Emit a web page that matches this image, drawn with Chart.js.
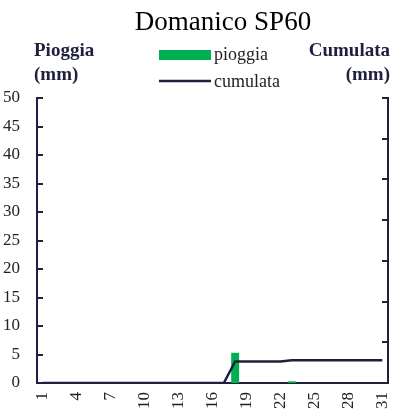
<!DOCTYPE html>
<html>
<head>
<meta charset="utf-8">
<script src="https://cdn.jsdelivr.net/npm/chart.js@4.4.0/dist/chart.umd.min.js"></script>
<style>
  html, body { margin: 0; padding: 0; background: #fff; }
  canvas { display: block; }
</style>
</head>
<body>
<canvas id="grafico" width="393" height="418"></canvas>
<script>
// Domanico SP60 - pioggia giornaliera e cumulata
var giorni = [];
for (var g = 1; g <= 31; g++) giorni.push(String(g));

var pioggia = [0,0,0,0,0,0,0,0,0,0,0,0,0,0,0,0,0,5.3,0,0,0,0,0.3,0,0,0,0,0,0,0,0];
var cumulata = [0,0,0,0,0,0,0,0,0,0,0,0,0,0,0,0,0,5.3,5.3,5.3,5.3,5.3,5.6,5.6,5.6,5.6,5.6,5.6,5.6,5.6,5.6];

var maxPioggia = 50, passoPioggia = 5;
var maxCumulata = 70, passoCumulata = 10;

var blu = '#1f1f3f';
var verde = '#00b050';
var serif = '"Liberation Serif", "DejaVu Serif", serif';

// titoli, legenda e tacche interne
var decorazioni = {
    id: 'decorazioni',
    afterDraw: function (chart) {
        var ctx = chart.ctx;
        var area = chart.chartArea;
        ctx.save();

        // tacche verso l'interno
        ctx.strokeStyle = blu;
        ctx.lineWidth = 2;
        var ys = chart.scales.y;
        ys.ticks.forEach(function (t) {
            var py = Math.round(ys.getPixelForValue(t.value));
            ctx.beginPath();
            ctx.moveTo(area.left, py);
            ctx.lineTo(area.left + 6, py);
            ctx.stroke();
        });
        var ys2 = chart.scales.y2;
        ys2.ticks.forEach(function (t) {
            var py = Math.round(ys2.getPixelForValue(t.value));
            ctx.beginPath();
            ctx.moveTo(area.right, py);
            ctx.lineTo(area.right - 6, py);
            ctx.stroke();
        });

        // titolo
        ctx.fillStyle = '#000';
        ctx.font = '27px ' + serif;
        ctx.textAlign = 'center';
        ctx.textBaseline = 'middle';
        ctx.fillText('Domanico SP60', 223, 23);

        // titoli assi
        ctx.fillStyle = blu;
        ctx.font = 'bold 19px ' + serif;
        ctx.textAlign = 'left';
        ctx.fillText('Pioggia', 34, 51);
        ctx.fillText('(mm)', 34, 75);
        ctx.textAlign = 'right';
        ctx.fillText('Cumulata', 390, 51);
        ctx.fillText('(mm)', 390, 75);

        // legenda
        ctx.fillStyle = verde;
        ctx.fillRect(159, 50, 52, 10);
        ctx.strokeStyle = blu;
        ctx.lineWidth = 2.5;
        ctx.beginPath();
        ctx.moveTo(159, 81);
        ctx.lineTo(211, 81);
        ctx.stroke();
        ctx.fillStyle = '#222';
        ctx.font = '18px ' + serif;
        ctx.textAlign = 'left';
        ctx.fillText('pioggia', 214, 55);
        ctx.fillText('cumulata', 214, 82);

        ctx.restore();
    }
};

var datos = {
    labels: giorni,
    datasets: [
        {
            type: 'line',
            label: 'cumulata',
            data: cumulata,
            yAxisID: 'y2',
            borderColor: blu,
            borderWidth: 2.5,
            pointRadius: 0,
            tension: 0,
            fill: false,
            order: 0
        },
        {
            type: 'bar',
            label: 'pioggia',
            data: pioggia,
            yAxisID: 'y',
            backgroundColor: verde,
            borderWidth: 0,
            barPercentage: 0.7,
            categoryPercentage: 1,
            order: 1
        }
    ]
};

var options = {
    responsive: false,
    animation: false,
    layout: { padding: { top: 98, left: 0, right: 0, bottom: 0 } },
    plugins: {
        legend: { display: false },
        title: { display: false },
        tooltip: { enabled: false }
    },
    scales: {
        x: {
            offset: true,
            grid: { display: false, drawTicks: false },
            border: { display: true, color: blu, width: 2 },
            ticks: {
                autoSkip: false,
                minRotation: 90,
                maxRotation: 90,
                padding: 9,
                color: '#222',
                font: { family: serif, size: 17 },
                callback: function (val, i) { return i % 3 === 0 ? giorni[i] : ''; }
            },
            afterFit: function (s) {
                s.height = 35;
                s.paddingLeft = 0;
                s.paddingRight = 0;
            }
        },
        y: {
            position: 'left',
            min: 0,
            max: maxPioggia,
            grid: { display: false, drawTicks: false },
            border: { display: true, color: blu, width: 2 },
            ticks: {
                stepSize: passoPioggia,
                padding: 17,
                color: '#222',
                font: { family: serif, size: 17 }
            },
            afterFit: function (s) { s.width = 37; }
        },
        y2: {
            position: 'right',
            min: 0,
            max: maxCumulata,
            grid: { display: false, drawTicks: false },
            border: { display: true, color: blu, width: 2 },
            ticks: { stepSize: passoCumulata, display: false },
            afterFit: function (s) { s.width = 5; }
        }
    }
};

var grafico = new Chart(document.getElementById('grafico').getContext('2d'), {
    data: datos,
    options: options,
    plugins: [decorazioni]
});
</script>
</body>
</html>
